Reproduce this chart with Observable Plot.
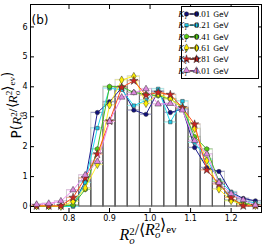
<!DOCTYPE html>
<html><head><meta charset="utf-8">
<script src="https://cdn.jsdelivr.net/npm/d3@7"></script>
<script src="https://cdn.jsdelivr.net/npm/@observablehq/plot@0.6"></script>
<style>body{margin:0;background:#fff} svg{display:block}</style>
</head><body><div id="chart"></div>
<script>
// bin centres of R_o^2/<R_o^2>_ev
const xs = [0.72,0.75,0.78,0.81,0.84,0.87,0.90,0.93,0.96,0.99,1.02,1.05,1.08,1.11,1.14,1.17,1.20,1.23,1.26];
const binWidth = 0.03;
const ktLabels = ["0.01","0.21","0.41","0.61","0.81","1.01"];
const kt001 = [0,0,0,0.02,0.85,3.14,3.5,3.96,3.22,3.08,3.85,3.14,3.26,1.97,1.3,1.17,0.47,0.27,0.19];
const kt021 = [0,0,0,0,0.8,2.62,3.95,3.9,3.37,3.55,3.93,2.82,3.52,2.14,1.58,0.88,0.49,0.19,0.12];
const kt041 = [0,0,0,0.05,0.57,1.92,4.01,4.0,3.81,3.75,3.7,3.6,3.3,2.33,1.92,0.83,0.21,0.1,0.05];
const kt061 = [0.02,0.02,0,0.17,0.62,1.4,3.39,4.23,4.35,3.44,3.76,3.59,3.3,2.6,1.53,0.58,0.19,0.07,0.03];
const kt081 = [0.02,0.02,0.02,0.3,0.95,1.75,2.85,3.98,4.2,3.72,3.81,3.74,3.3,2.75,1.22,0.75,0.3,0.02,0.03];
const kt101 = [0.07,0.1,0.18,0.55,1.05,1.5,2.84,3.65,3.8,3.93,3.42,3.44,3.22,2.2,1.75,0.8,0.43,0.22,0.05];
const xTicks = [0.8,0.9,1.0,1.1,1.2];
const yTicks = [0,1,2,3,4,5,6];

const seriesValues = [kt001,kt021,kt041,kt061,kt081,kt101];
const markerFill = ["#10107a","#1cc8e8","#55cc11","#ffee00","#cc2222","#dd88dd"];
const lineColor  = ["#202090","#22ddee","#44bb22","#ffee22","#ff4a1a","#ee88ee"];
const stepColor  = ["#8080c0","#80ffff","#88dd66","#ffff66","#ff9966","#ffaaff"];

const hexagon = {draw(ctx, size){
  const r = Math.sqrt(2*size/(3*Math.sqrt(3)));
  for (let i=0;i<6;i++){const a=Math.PI/6+i*Math.PI/3; const px=r*Math.cos(a), py=r*Math.sin(a); if(i===0)ctx.moveTo(px,py); else ctx.lineTo(px,py);}
  ctx.closePath();
}};
const symbols = [d3.symbolCircle, d3.symbolSquare, hexagon, d3.symbolDiamond, d3.symbolStar, d3.symbolTriangle];
const symbolScale = [1, 0.9, 1.05, 1.1, 1.2, 1.1];
const baseR = 2.2;

const rows = [];
seriesValues.forEach((vals, s) => vals.forEach((v, j) => rows.push({x: xs[j], y: v, s})));

const marks = [];
marks.push(Plot.rect(rows, {x1: d => d.x - binWidth/2, x2: d => d.x + binWidth/2, y1: 0, y2: "y", fill: "none", stroke: "#555", strokeOpacity: 0.28, strokeWidth: 1}));
seriesValues.forEach((vals, s) => {
  const data = rows.filter(d => d.s === s);
  marks.push(Plot.ruleY(data, {y: "y", x1: d => d.x - binWidth/2, x2: d => d.x + binWidth/2, stroke: stepColor[s], strokeOpacity: 0.7, strokeWidth: 1}));
});
seriesValues.forEach((vals, s) => {
  const data = rows.filter(d => d.s === s);
  marks.push(Plot.line(data, {x: "x", y: "y", stroke: lineColor[s], strokeWidth: 1}));
  marks.push(Plot.dot(data, {x: "x", y: "y", symbol: symbols[s], r: baseR*symbolScale[s], fill: markerFill[s], stroke: "#333", strokeWidth: 0.5}));
});
// axes: inward ticks on all sides
marks.push(Plot.axisX(xTicks, {tickSize: 0, tickPadding: 3, tickFormat: d3.format(".1f"), fontSize: 8, fontFamily: "DejaVu Sans", fill: "#000", label: null}));
marks.push(Plot.axisX(xTicks, {tickSize: 4, dy: -4, tickFormat: () => "", label: null}));
marks.push(Plot.axisX(xTicks, {anchor: "top", tickSize: 4, dy: 4, tickFormat: () => "", label: null}));
marks.push(Plot.axisY(yTicks, {tickSize: 0, tickPadding: 3, tickFormat: d3.format("d"), fontSize: 8, fontFamily: "DejaVu Sans", fill: "#000", label: null}));
marks.push(Plot.axisY(yTicks, {tickSize: 4, dx: 4, tickFormat: () => "", label: null}));
marks.push(Plot.axisY(yTicks, {anchor: "right", tickSize: 4, dx: -4, tickFormat: () => "", label: null}));
marks.push(Plot.frame({stroke: "#000", strokeWidth: 1}));

const svg = Plot.plot({
  width: 266, height: 246,
  marginLeft: 30, marginRight: 5, marginTop: 4, marginBottom: 34,
  x: {domain: [0.705, 1.275]},
  y: {domain: [-0.2, 6.75]},
  style: {background: "#fff", fontFamily: "DejaVu Sans"},
  marks
});
document.getElementById("chart").appendChild(svg);

const S = d3.select(svg);
const serif = "Liberation Serif";
// panel tag
S.append("text").attr("x", 40).attr("y", 24).attr("font-family", "DejaVu Sans").attr("font-size", 12).attr("fill", "#000").text("(b)");

function mathLabel(g, withP, fs) {
  const t = g.append("text").attr("font-size", fs).attr("font-family", serif).attr("fill", "#000").attr("text-anchor", "middle");
  if (withP) t.append("tspan").attr("font-family", "DejaVu Sans").text("P(");
  const Ro2 = () => {
    t.append("tspan").attr("font-style", "italic").text("R");
    t.append("tspan").attr("font-style", "italic").attr("font-size", fs*0.68).attr("dy", fs*0.22).text("o");
    t.append("tspan").attr("font-size", fs*0.68).attr("dx", -fs*0.34).attr("dy", -fs*0.54).text("2");
    t.append("tspan").attr("dy", fs*0.32).text("");
  };
  Ro2();
  t.append("tspan").text("/⟨");
  Ro2();
  t.append("tspan").text("⟩");
  t.append("tspan").attr("font-size", fs*0.68).attr("dy", fs*0.22).text("ev");
  if (withP) t.append("tspan").attr("dy", -fs*0.22).attr("font-family", "DejaVu Sans").text(")");
  return t;
}
// x label
mathLabel(S.append("g").attr("transform", "translate(148,240)"), false, 16);
// y label
mathLabel(S.append("g").attr("transform", "translate(21,105) rotate(-90)"), true, 13.5);

// legend
const L = S.append("g");
L.append("rect").attr("x", 181.5).attr("y", 6.5).attr("width", 77).attr("height", 72).attr("fill", "#fff").attr("stroke", "#000").attr("stroke-width", 1);
ktLabels.forEach((k, i) => {
  const y = 14 + i*11.3;
  L.append("line").attr("x1", 186).attr("x2", 197).attr("y1", y).attr("y2", y).attr("stroke", lineColor[i]).attr("stroke-width", 1);
  const sym = d3.symbol(symbols[i], Math.PI*Math.pow(baseR*symbolScale[i], 2));
  [186.5, 196.5].forEach(px => L.append("path").attr("d", sym()).attr("transform", `translate(${px},${y})`).attr("fill", markerFill[i]).attr("stroke", "#333").attr("stroke-width", 0.5));
  const t = L.append("text").attr("x", 203.5).attr("y", y + 3).attr("font-family", serif).attr("font-size", 9).attr("fill", "#000");
  t.append("tspan").attr("font-style", "italic").text("K");
  t.append("tspan").attr("font-style", "italic").attr("font-size", 5.5).attr("dy", 2).text("T");
  t.append("tspan").attr("dy", -2).attr("dx", 2).text("=" + k);
  t.append("tspan").attr("font-family", "DejaVu Sans").attr("font-size", 7.5).attr("dx", 3).text("GeV");
});
</script></body></html>
